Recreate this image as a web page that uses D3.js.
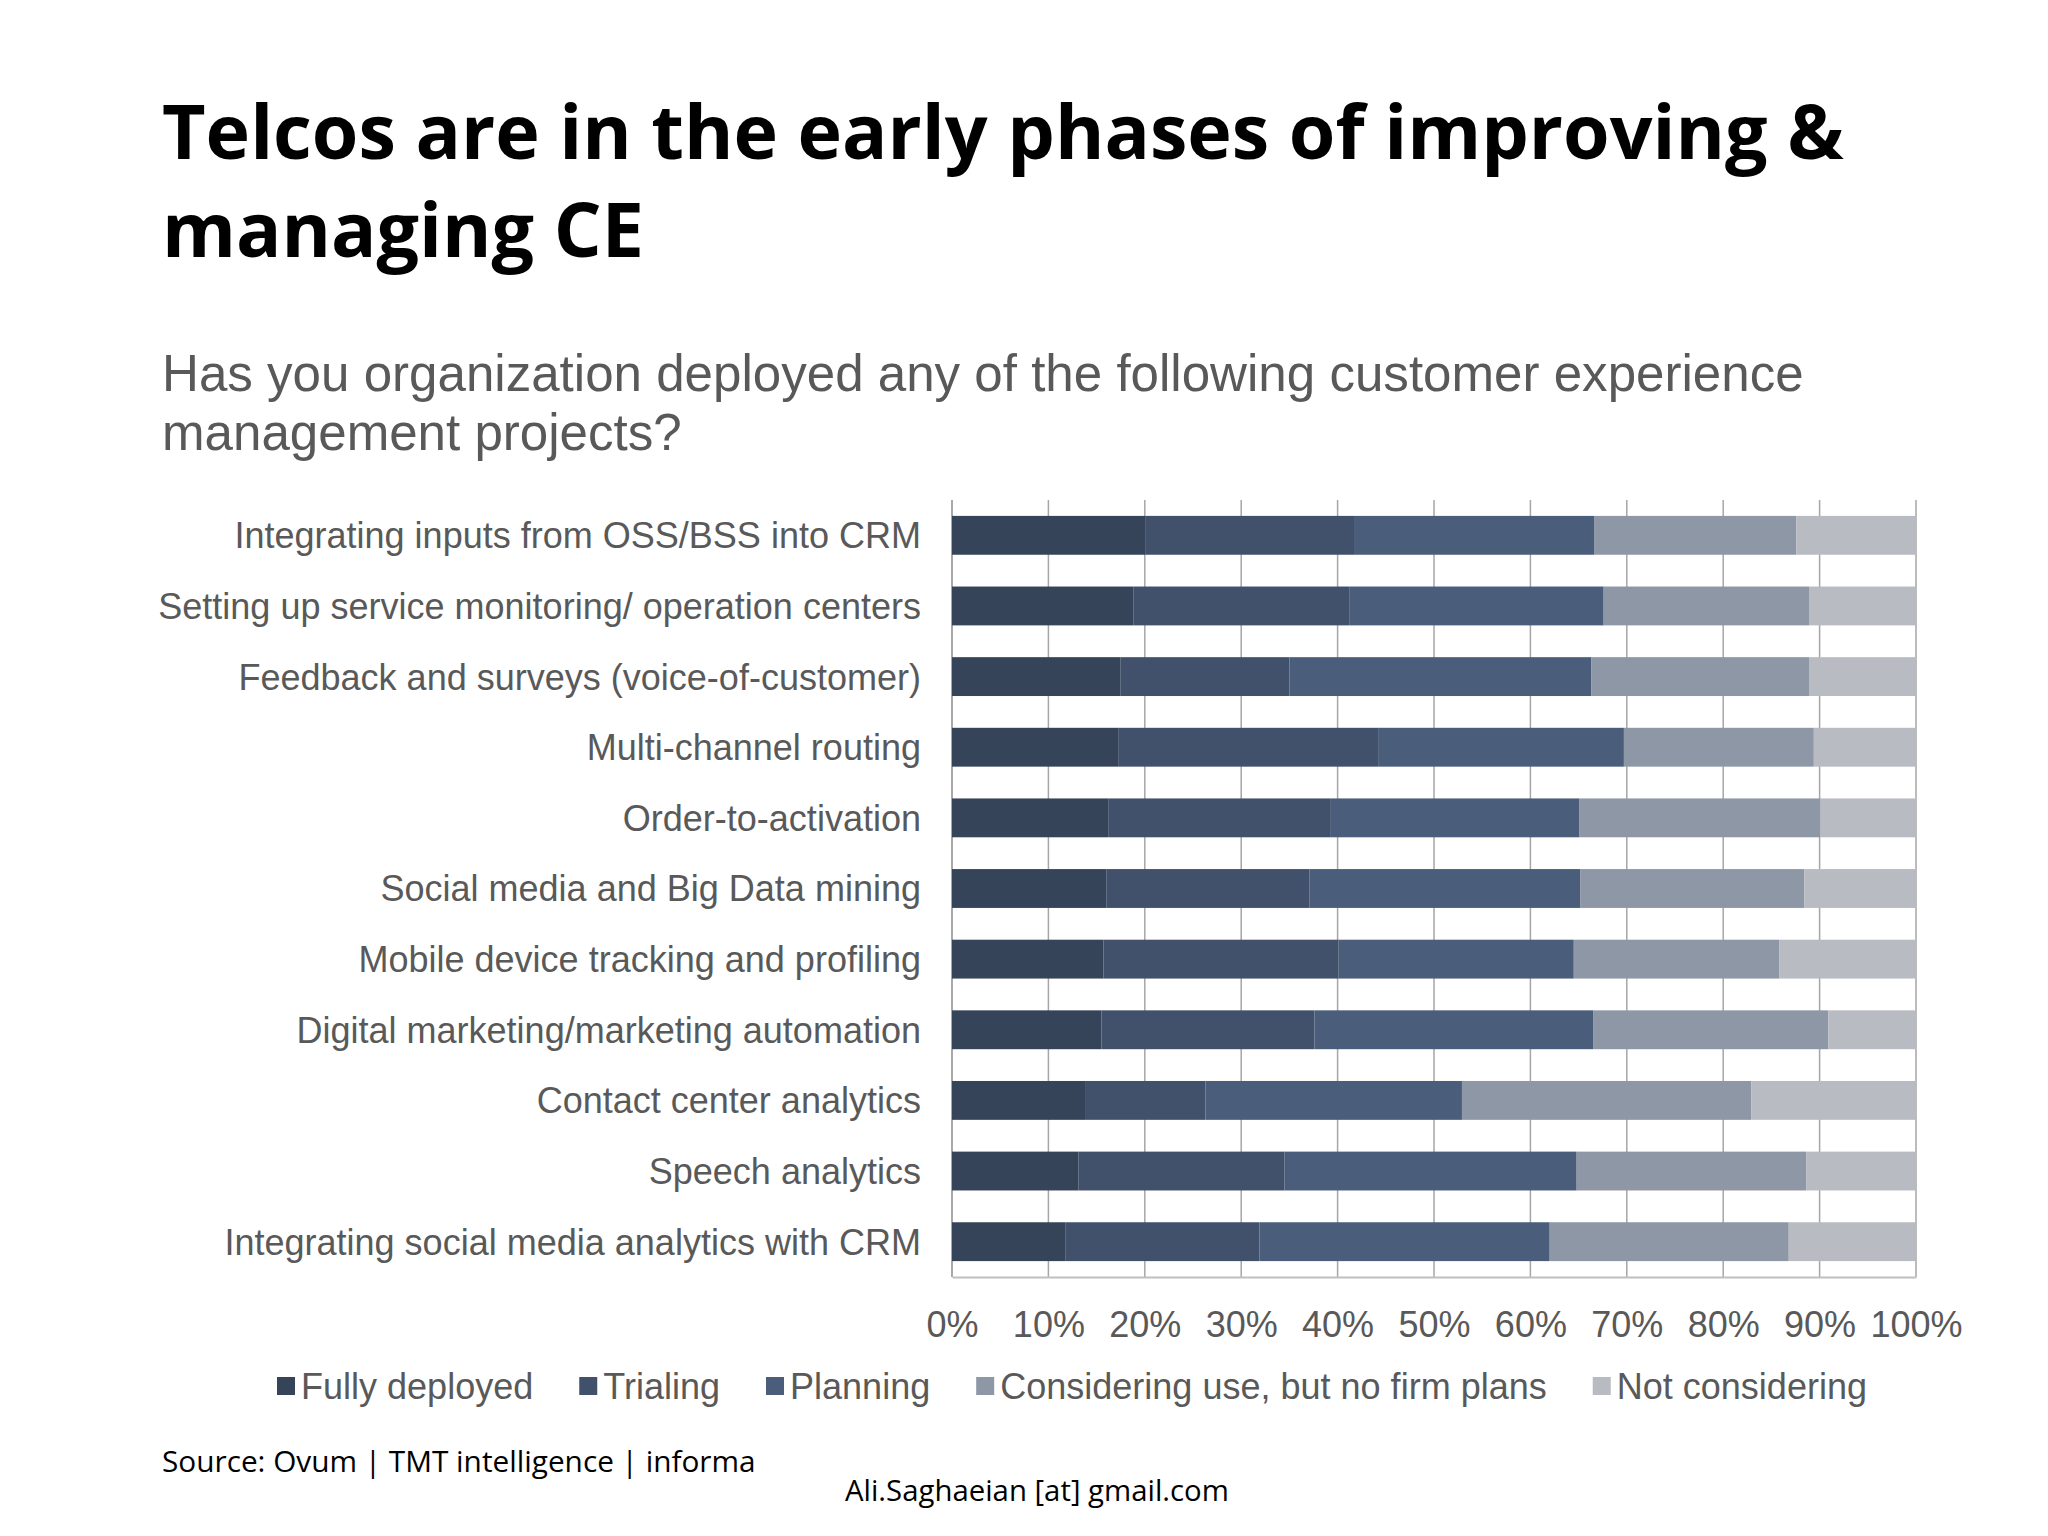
<!DOCTYPE html>
<html><head><meta charset="utf-8">
<script src="https://cdn.jsdelivr.net/npm/d3@7"></script>
<style>body{margin:0;background:#fff}</style>
</head><body>
<svg id="c" width="2048" height="1536"></svg>
<script>
const categories = [
  "Integrating inputs from OSS/BSS into CRM",
  "Setting up service monitoring/ operation centers",
  "Feedback and surveys (voice-of-customer)",
  "Multi-channel routing",
  "Order-to-activation",
  "Social media and Big Data mining",
  "Mobile device tracking and profiling",
  "Digital marketing/marketing automation",
  "Contact center analytics",
  "Speech analytics",
  "Integrating social media analytics with CRM"
];
const seriesNames = ["Fully deployed","Trialing","Planning","Considering use, but no firm plans","Not considering"];
const fullyDeployed = [20.1,18.8,17.5,17.3,16.2,16.0,15.7,15.5,13.8,13.1,11.8];
const trialing      = [21.6,22.4,17.5,26.9,23.1,21.1,24.4,22.1,12.5,21.4,20.1];
const planning      = [24.9,26.4,31.3,25.5,25.8,28.1,24.4,28.9,26.6,30.3,30.1];
const considering   = [21.0,21.3,22.6,19.7,25.0,23.2,21.3,24.4,30.0,23.8,24.8];
const notConsidering= [12.4,11.1,11.1,10.6,9.9,11.6,14.2,9.1,17.1,11.4,13.2];
const tickValues = [0,10,20,30,40,50,60,70,80,90,100];
const tickLabels = ["0%","10%","20%","30%","40%","50%","60%","70%","80%","90%","100%"];
const colors = ["#36445a","#41506b","#4a5d7a","#8e97a5","#b9bbc3"];

const svg = d3.select("#c");
const seriesArrays = [fullyDeployed,trialing,planning,considering,notConsidering];
const rows = categories.map((c,i)=>{const o={cat:c}; seriesNames.forEach((s,j)=>o[s]=seriesArrays[j][i]); return o;});
const stack = d3.stack().keys(seriesNames)(rows);

const L=952, R=1916, T=500, B=1277;
const x = d3.scaleLinear().domain([0,100]).range([L,R]);
const y = d3.scaleBand().domain(categories).range([T,B]).paddingInner(0.45).paddingOuter(0.225);

function fit(sel, target){
  const w = sel.node().getComputedTextLength();
  const fs = parseFloat(sel.attr("font-size"));
  sel.attr("font-size", fs*target/w);
  return fs*target/w;
}

// Title
const tfont = "'Open Sans', 'Noto Sans', sans-serif";
const t1 = svg.append("text").attr("x",162).attr("y",159).attr("font-family",tfont).attr("font-weight",700)
  .attr("font-size",80).attr("fill","#000").text("Telcos are in the early phases of improving &");
const tfs = fit(t1,1682);
svg.append("text").attr("x",162).attr("y",257).attr("font-family",tfont).attr("font-weight",700)
  .attr("font-size",tfs).attr("fill","#000").text("managing CE");

// Subtitle
const afont = "'Liberation Sans', Arial, sans-serif";
const s1 = svg.append("text").attr("x",162).attr("y",391).attr("font-family",afont)
  .attr("font-size",46).attr("fill","#595959").text("Has you organization deployed any of the following customer experience");
const sfs = fit(s1,1642);
svg.append("text").attr("x",162).attr("y",450).attr("font-family",afont)
  .attr("font-size",sfs).attr("fill","#595959").text("management projects?");

// gridlines
svg.append("g").selectAll("line").data(tickValues).join("line")
  .attr("x1",d=>x(d)).attr("x2",d=>x(d)).attr("y1",T).attr("y2",B)
  .attr("stroke",d=>d===0?"#8c8c8c":"#a6a6a6").attr("stroke-width",1.5);

// bars
svg.append("g").selectAll("g").data(stack).join("g").attr("fill",(d,i)=>colors[i])
  .selectAll("rect").data(d=>d).join("rect")
  .attr("x",d=>x(d[0])).attr("width",d=>x(d[1])-x(d[0]))
  .attr("y",d=>y(d.data.cat)).attr("height",y.bandwidth());

// bottom axis
const ax = svg.append("g").attr("transform",`translate(0,${B})`)
  .call(d3.axisBottom(x).tickValues(tickValues).tickFormat((d,i)=>tickLabels[i]).tickSize(0).tickPadding(34));
ax.select(".domain").attr("stroke","#bfbfbf").attr("stroke-width",2);
ax.selectAll("text").attr("font-family",afont).attr("font-size",35).attr("fill","#595959");

// category labels
const lab = svg.append("g").selectAll("text").data(categories).join("text")
  .attr("x",921).attr("y",d=>y(d)+y.bandwidth()/2).attr("dy","0.36em").attr("text-anchor","end")
  .attr("font-family",afont).attr("font-size",35).attr("fill","#595959").text(d=>d);
const longest = lab.filter((d,i)=>i===1);
const lfs = fit(longest,763);
lab.attr("font-size",lfs);
ax.selectAll("text").attr("font-size",lfs);

// legend
const lg = svg.append("g");
let cx = 0;
const gap = 46;
const items = lg.selectAll("g").data(seriesNames).join("g");
items.append("rect").attr("width",18).attr("height",18).attr("y",-9).attr("fill",(d,i)=>colors[i]);
items.append("text").attr("x",24).attr("dy","0.36em").attr("font-family",afont).attr("font-size",lfs)
  .attr("fill","#595959").text(d=>d);
items.each(function(){
  const g=d3.select(this);
  g.attr("transform",`translate(${cx},0)`);
  cx += 24 + g.select("text").node().getComputedTextLength() + gap;
});
lg.attr("transform",`translate(${277},1386)`);

// footer
const cfont = "'Open Sans', 'Noto Sans', sans-serif";
const f1 = svg.append("text").attr("x",162).attr("y",1472).attr("font-family",cfont)
  .attr("font-size",30).attr("fill","#000").text("Source: Ovum | TMT intelligence | informa");
fit(f1,594);
const f2 = svg.append("text").attr("x",845).attr("y",1501).attr("font-family",cfont)
  .attr("font-size",30).attr("fill","#000").text("Ali.Saghaeian [at] gmail.com");
fit(f2,384);
</script>
</body></html>
